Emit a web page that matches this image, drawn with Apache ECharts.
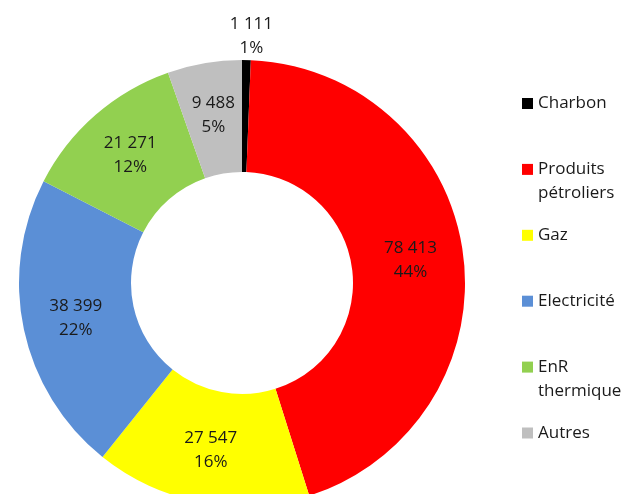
<!DOCTYPE html>
<html>
<head>
<meta charset="utf-8">
<script src="https://cdn.jsdelivr.net/npm/echarts@6/dist/echarts.min.js"></script>
<style>
  html, body { margin: 0; padding: 0; background: #ffffff; }
  #chart { width: 625px; height: 494px; }
</style>
</head>
<body>
<div id="chart"></div>
<script>
// Final energy consumption by source
const categories = ['Charbon', 'Produits pétroliers', 'Gaz', 'Electricité', 'EnR thermique', 'Autres'];
const values = [1111, 78413, 27547, 38399, 21271, 9488];
const legendLabels = ['Charbon', 'Produits\npétroliers', 'Gaz', 'Electricité', 'EnR\nthermique', 'Autres'];
const colors = ['#000000', '#ff0000', '#ffff00', '#5b8fd6', '#92d050', '#bfbfbf'];

const FONT = '"Open Sans", sans-serif';
const FONT_SIZE = 17;
const LINE = 24;
const TEXT_COLOR = '#1a1a1a';

const total = values.reduce((a, b) => a + b, 0);

// thousands separated by a space, French style
const fmtNum = v => String(v).replace(/\B(?=(\d{3})+(?!\d))/g, ' ');
const fmtPct = v => Math.round(v / total * 100) + '%';

// one legend block per source, evenly spaced; wrapped names keep the
// swatch level with their first line (an empty line above balances the block)
const LEGEND_FIRST = 103.5;
const LEGEND_STEP = 65.9;
const legends = categories.map((name, i) => {
  const extra = legendLabels[i].split('\n').length - 1;
  const text = '\n'.repeat(extra) + legendLabels[i];
  return {
    orient: 'vertical',
    left: 522,
    top: LEGEND_FIRST + i * LEGEND_STEP - LINE / 2 - extra * LINE,
    padding: 0,
    itemWidth: 11,
    itemHeight: 11,
    icon: 'rect',
    selectedMode: false,
    data: [name],
    formatter: () => text,
    textStyle: {
      fontFamily: FONT,
      fontSize: FONT_SIZE,
      lineHeight: LINE,
      color: TEXT_COLOR
    }
  };
});

const pieData = categories.map((name, i) => {
  const item = { name: name, value: values[i], itemStyle: { color: colors[i] } };
  if (i === 0) {
    // the thin coal slice carries its label above the ring
    item.label = { position: 'outside' };
    item.labelLine = { show: false, length: 0, length2: 0 };
  }
  return item;
});

const chart = echarts.init(document.getElementById('chart'), null, { renderer: 'canvas' });
chart.setOption({
  animation: false,
  backgroundColor: '#ffffff',
  legend: legends,
  series: [{
    type: 'pie',
    center: [242, 283],
    radius: [111, 223],
    startAngle: 90,
    clockwise: true,
    avoidLabelOverlap: false,
    silent: true,
    itemStyle: { borderWidth: 0 },
    label: {
      show: true,
      position: 'inside',
      fontFamily: FONT,
      fontSize: FONT_SIZE,
      lineHeight: LINE,
      color: TEXT_COLOR,
      align: 'center',
      formatter: p => fmtNum(p.value) + '\n' + fmtPct(p.value)
    },
    labelLine: { show: false },
    labelLayout: params => (params.dataIndex === 0
      ? { align: 'center', verticalAlign: 'bottom' }
      : {}),
    data: pieData
  }]
});
</script>
</body>
</html>
